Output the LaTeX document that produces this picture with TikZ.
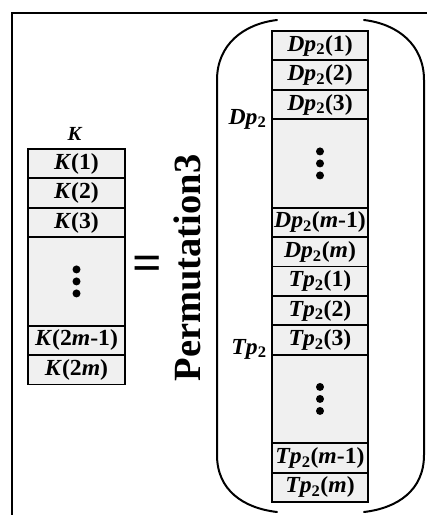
\documentclass[tikz,border=0pt]{standalone}
\usepackage{fontspec}
\setmainfont{Liberation Serif}
\newfontfamily\cellfont{Liberation Serif}[FakeStretch=1.03]
\newcommand{\Kv}{\textit{K}}
\newcommand{\Dv}{\textit{Dp}\textsubscript{2}}
\newcommand{\Tv}{\textit{Tp}\textsubscript{2}}
\newcommand{\mv}{\textit{m}}
\definecolor{cellgray}{RGB}{240,240,240}
\begin{document}
\begin{tikzpicture}[x=1pt,y=-1pt,
  cell/.style={draw=black, fill=cellgray, line width=1.9pt, minimum width=96pt,
    minimum height=29.44pt, inner sep=0pt, anchor=north,
    font=\cellfont\bfseries\fontsize{23}{23}\selectfont},
  dotbox/.style={cell, minimum height=88.32pt},
  sidelab/.style={anchor=base, inner sep=0pt, font=\cellfont\bfseries\fontsize{23}{23}\selectfont},
  bracket/.style={line width=2pt, line cap=round},
  frameline/.style={line width=2pt}
]
\useasboundingbox (0,0) rectangle (427,515);
% frame
\coordinate (fTR) at (427,13);
\coordinate (fTL) at (12,13);
\coordinate (fBL) at (12,515);
\draw[frameline] (fTR) -- (fTL) -- (fBL);

% K column
\node[sidelab, font=\cellfont\bfseries\fontsize{20}{20}\selectfont] (klab) at (75,140) {\Kv};
\node[cell, minimum width=97pt] (k1) at (76.5,148) {\Kv(1)};
\node[cell, minimum width=97pt] (k2) at (76.5,177.44) {\Kv(2)};
\node[cell, minimum width=97pt] (k3) at (76.5,206.88) {\Kv(3)};
\node[dotbox, minimum width=97pt] (kd) at (76.5,236.32) {};
\node[cell, minimum width=97pt] (k4) at (76.5,324.64) {\Kv(2\mv-1)};
\node[cell, minimum width=97pt] (k5) at (76.5,354.08) {\Kv(2\mv)};
\foreach \dy in {-12,0,12} \fill ([yshift=\dy pt]kd.center) circle (4pt);

% equals and Permutation3
\node[inner sep=0pt, font=\bfseries\fontsize{52}{52}\selectfont] (eq) at (147,268.5) {=};
\node[rotate=90, anchor=base, inner sep=0pt, font=\bfseries\fontsize{38.5}{38.5}\selectfont] (perm) at (200,268) {Permutation3};

% right column
\node[cell] (d1) at (320,30) {\Dv(1)};
\node[cell] (d2) at (320,59.44) {\Dv(2)};
\node[cell] (d3) at (320,88.88) {\Dv(3)};
\node[dotbox] (dd) at (320,118.32) {};
\node[cell] (d4) at (320,206.64) {\Dv(\mv-1)};
\node[cell] (d5) at (320,236.08) {\Dv(\mv)};
\node[cell] (t1) at (320,265.52) {\Tv(1)};
\node[cell] (t2) at (320,294.96) {\Tv(2)};
\node[cell] (t3) at (320,324.4) {\Tv(3)};
\node[dotbox] (td) at (320,353.84) {};
\node[cell] (t4) at (320,442.16) {\Tv(\mv-1)};
\node[cell] (t5) at (320,471.6) {\Tv(\mv)};
\foreach \dy in {-12,0,12} \fill ([yshift=\dy pt]dd.center) circle (4pt);
\foreach \dy in {-12,0,12} \fill ([yshift=\dy pt]td.center) circle (4pt);

\node[sidelab] (dlab) at (247.5,124) {\Dv};
\node[sidelab] (tlab) at (249,354) {\Tv};

% big parentheses
\draw[bracket] (277,20) .. controls (243,24) and (217,45) .. (217,80) -- (217,455)
  .. controls (217,490) and (243,508) .. (277,512);
\draw[bracket] (364,20) .. controls (398,24) and (424,45) .. (424,80) -- (424,455)
  .. controls (424,490) and (398,508) .. (364,512);
\end{tikzpicture}
\end{document}
